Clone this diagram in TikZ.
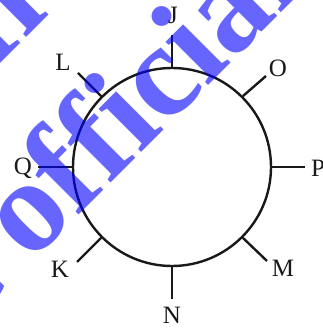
\documentclass[tikz,border=0pt]{standalone}
\usepackage{fontspec}
\setmainfont{Liberation Serif}
\usetikzlibrary{positioning}
\definecolor{markblue}{HTML}{0000FF}

\begin{document}
\begin{tikzpicture}[x=1pt, y=1pt,
    ringcirc/.style={draw=black!90, line width=2.4pt, circle, minimum size=198pt, inner sep=0pt},
    spoke/.style={draw=black!90, line width=2.4pt},
    seatlbl/.style={font=\fontsize{25}{29}\selectfont, text=black!90, inner sep=0pt},
    wmark/.style={font=\fontsize{132}{132}\selectfont\bfseries, text=markblue, text opacity=0.6, inner sep=0pt, rotate=45, anchor=base west},
]
\useasboundingbox (0, 0) rectangle (322, 331);

% the table
\node[ringcirc] (ring) at (172, 164) {};

% outer ends of the spokes
\coordinate (eJ) at (172, 296);
\coordinate (eO) at (266, 255);
\coordinate (eP) at (305, 164);
\coordinate (eM) at (267, 70);
\coordinate (eN) at (172, 32);
\coordinate (eK) at (77, 69);
\coordinate (eQ) at (38, 164);
\coordinate (eL) at (78, 258);

\draw[spoke] (ring.90) -- (eJ);
\draw[spoke] (ring.45) -- (eO);
\draw[spoke] (ring.0) -- (eP);
\draw[spoke] (ring.-45) -- (eM);
\draw[spoke] (ring.-90) -- (eN);
\draw[spoke] (ring.-135) -- (eK);
\draw[spoke] (ring.180) -- (eQ);
\draw[spoke] (ring.135) -- (eL);

% seat letters
\node[seatlbl] (lJ) at (173, 316) {J};
\node[seatlbl] (lO) at (278, 263) {O};
\node[seatlbl] (lP) at (318, 163) {P};
\node[seatlbl] (lM) at (283, 63) {M};
\node[seatlbl] (lN) at (172, 16) {N};
\node[seatlbl] (lK) at (60, 62) {K};
\node[seatlbl] (lQ) at (23, 163) {Q};
\node[seatlbl] (lL) at (63, 269) {L};

% watermark
\begin{scope}
\clip (0, 0) rectangle (322, 331);
\node[wmark] (wm) at (-138.3, -101.3) {Not official};
\node[wmark] (wmtop) at (-253.3, 13.7) {Not official};
\end{scope}
\end{tikzpicture}
\end{document}
